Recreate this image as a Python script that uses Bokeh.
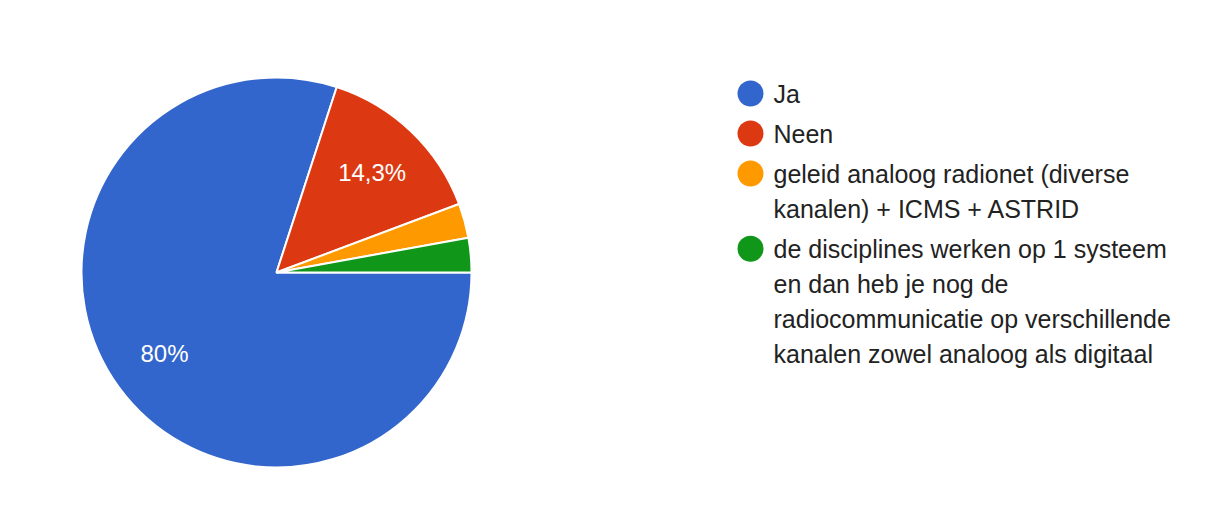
import math
from bokeh.plotting import figure
from bokeh.models import Range1d, ColumnDataSource
from bokeh.core.properties import value
from bokeh.embed import file_html
from bokeh.resources import INLINE

# ---- data ----
categories = [
    "Ja",
    "Neen",
    "geleid analoog radionet (diverse\nkanalen) + ICMS + ASTRID",
    "de disciplines werken op 1 systeem\nen dan heb je nog de\nradiocommunicatie op verschillende\nkanalen zowel analoog als digitaal",
]
counts = [28, 5, 1, 1]
colors = ["#3366cc", "#dc3912", "#ff9900", "#109618"]

W, H = 1216, 517
p = figure(width=W, height=H, output_backend="svg", toolbar_location=None,
           x_range=Range1d(0, W), y_range=Range1d(0, H), min_border=0)
p.axis.visible = False
p.grid.visible = False
p.outline_line_color = None
p.background_fill_color = "white"
p.border_fill_color = "white"

cx, cy, R = 276, H - 272, 195
total = sum(counts)
starts, ends, mids = [], [], []
cum = 0.0
for c in counts:
    a0 = -2 * math.pi * cum / total
    cum += c
    a1 = -2 * math.pi * cum / total
    starts.append(a0)
    ends.append(a1)
    mids.append((a0 + a1) / 2)

src = ColumnDataSource(dict(x=[cx] * len(counts), y=[cy] * len(counts),
                            start=starts, end=ends, color=colors))
p.wedge(x="x", y="y", radius=R, radius_units="screen", start_angle="start",
        end_angle="end", direction="clock", fill_color="color",
        line_color="white", line_width=2, source=src)

# percentage labels
lx, ly, lt = [], [], []
for c, m in zip(counts, mids):
    pct = 100 * c / total
    if pct < 5:
        continue
    s = f"{pct:.1f}".replace(".", ",")
    if s.endswith(",0"):
        s = s[:-2]
    rr = 0.71 * R
    lx.append(cx + rr * math.cos(m))
    ly.append(cy + rr * math.sin(m))
    lt.append(s + "%")
p.text(x=lx, y=ly, text=lt, text_color="white", text_font=value("Liberation Sans"),
       text_font_size="24px", text_align="center", text_baseline="middle")

# legend
mx, tx = 750, 773
y0 = 93
line_h = 35.2
row_gap = 40
mk_x, mk_y, txt_x, txt_y, txt = [], [], [], [], []
yy = y0
for cat in categories:
    lines = cat.split("\n")
    mk_x.append(mx)
    mk_y.append(H - yy)
    for i, ln in enumerate(lines):
        txt_x.append(tx)
        txt_y.append(H - (yy + i * line_h))
        txt.append(ln)
    yy += (len(lines) - 1) * line_h + row_gap
p.scatter(x=mk_x, y=mk_y, size=26, marker="circle", color=colors, line_color=None)
p.text(x=txt_x, y=txt_y, text=txt, text_color="#222222",
       text_font=value("Liberation Sans"), text_font_size="25px",
       text_align="left", text_baseline="middle")

open("out.html", "w").write(file_html(p, INLINE))
